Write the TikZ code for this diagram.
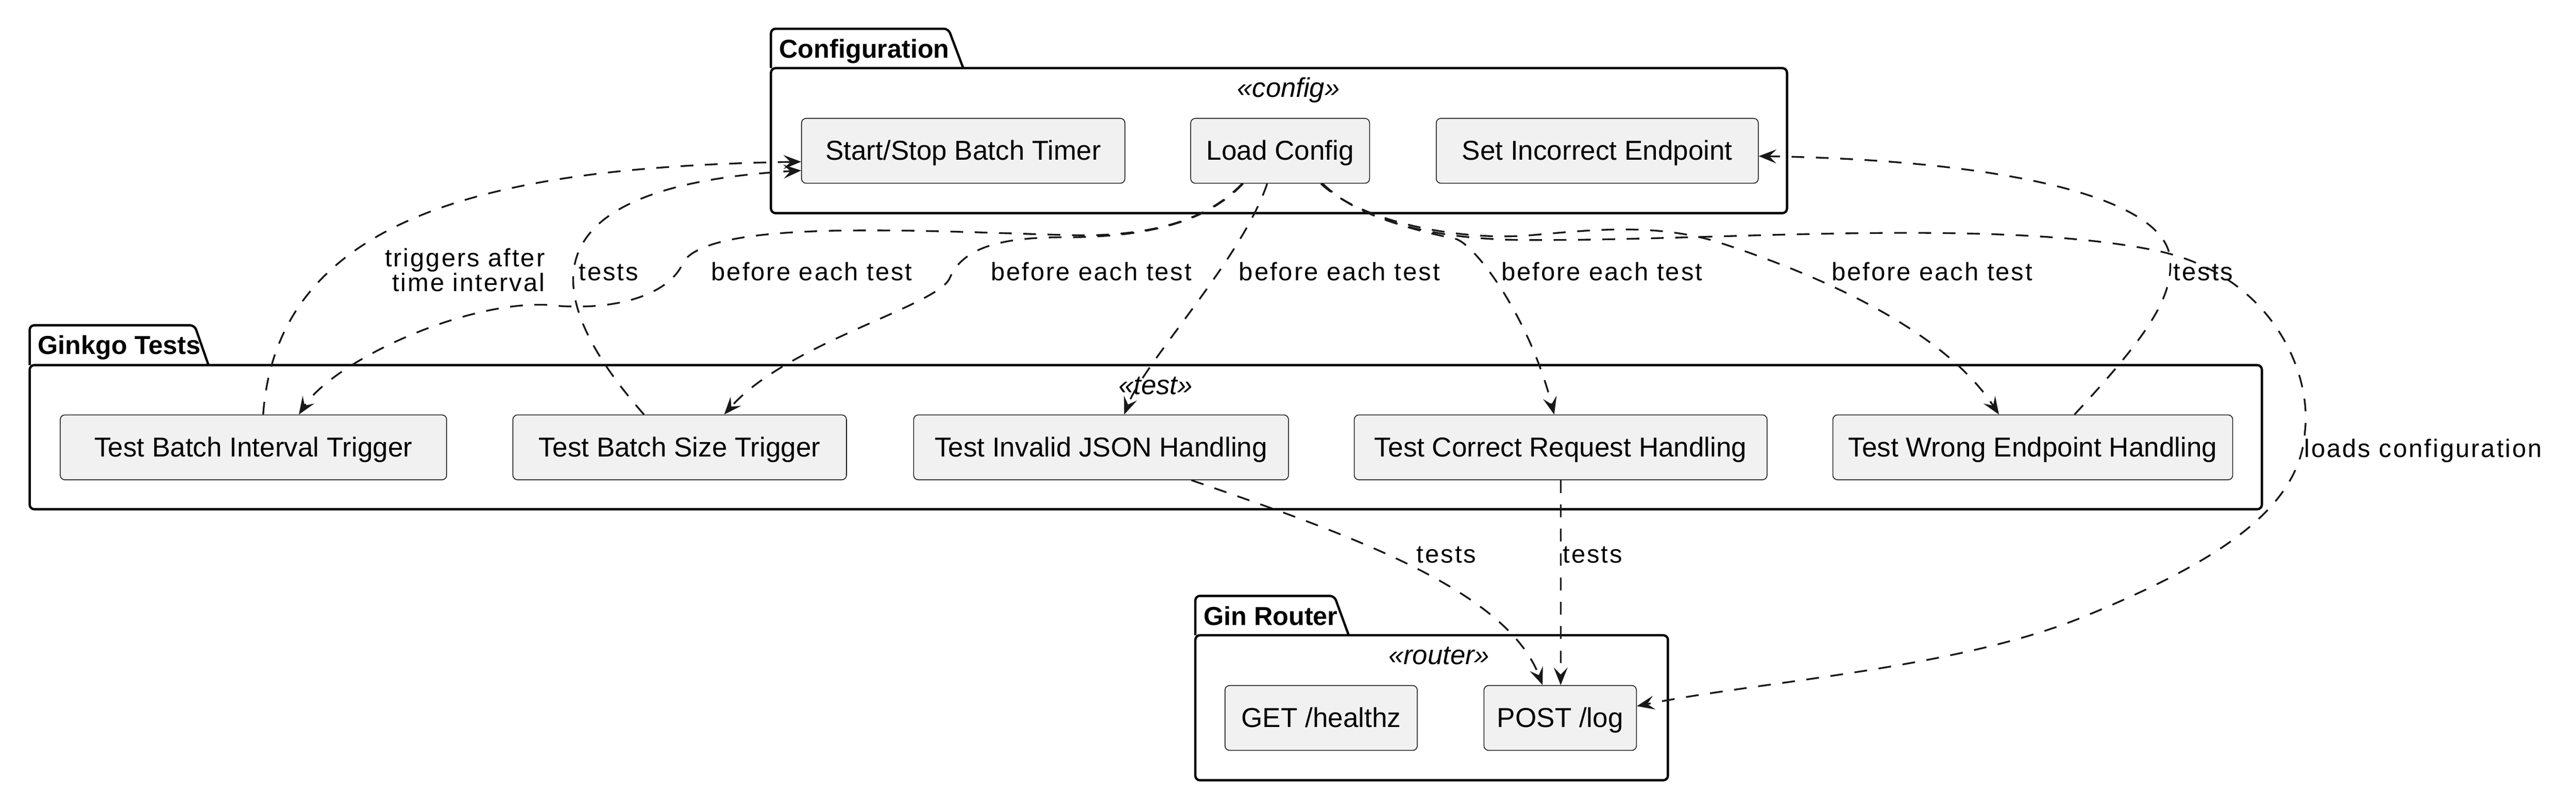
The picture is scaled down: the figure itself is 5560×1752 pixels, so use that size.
\documentclass[tikz,border=0pt]{standalone}
\usepackage{fontspec}
\setmainfont{Liberation Sans}
\newfontfamily\linkfont[LetterSpace=6]{Liberation Sans}
\usetikzlibrary{arrows.meta,calc}

\definecolor{ink}{HTML}{181818}
\definecolor{boxfill}{HTML}{F1F1F1}

\tikzset{
    comp/.style={draw=ink, line width=0.35pt, fill=boxfill, rounded corners=2pt,
        minimum height=28pt, inner xsep=4pt, text depth=0.5pt,
        font=\fontsize{11.8}{14}\selectfont},
    pkg/.style={draw=black, line width=1pt, rounded corners=2pt},
    pkgname/.style={anchor=base west, font=\fontsize{11.2}{13}\selectfont\bfseries},
    stereo/.style={anchor=base, font=\fontsize{11.7}{14}\selectfont\itshape},
    dep/.style={draw=ink, line width=0.75pt, dash pattern=on 5.5pt off 5pt,
        -{Stealth[length=7.6pt, width=6pt, inset=3pt]}},
    lbl/.style={anchor=base, font=\linkfont\fontsize{10.9}{10.8}\selectfont}
}

\begin{document}
\begin{tikzpicture}[x=0.2pt,y=-0.2pt]
    \tikzstyle{every node}+=[inner sep=0pt]
    \useasboundingbox (0,0) rectangle (5560,1752);
    % packages
    \draw [pkg] (1664,147) -- (1664,62) -- (2047,62) -- (2079,147);
    \draw [pkg] (1664,147) rectangle (3857,460);
    \node [pkgname] (cfgname) at (1681,125) {Configuration};
    \node [stereo] (cfgtag) at (2781,210) {«config»};
    \draw [pkg] (64,788) -- (64,702) -- (420,702) -- (450,788);
    \draw [pkg] (64,788) rectangle (4882,1099);
    \node [pkgname] (testname) at (81,765) {Ginkgo Tests};
    \node [stereo] (testtag) at (2494,851) {«test»};
    \draw [pkg] (2580,1371) -- (2580,1286) -- (2880,1286) -- (2911,1371);
    \draw [pkg] (2580,1371) rectangle (3600,1684);
    \node [pkgname] (routername) at (2597,1349) {Gin Router};
    \node [stereo] (routertag) at (3106,1434) {«router»};
    % components
    \node [comp, minimum width=139.6pt] (timer) at (2079,325.5) {Start/Stop Batch Timer};
    \node [comp, minimum width=77.2pt] (load) at (2763,325.5) {Load Config};
    \node [comp, minimum width=139pt] (endpoint) at (3447.5,325.5) {Set Incorrect Endpoint};
    \node [comp, minimum width=166.8pt] (interval) at (547,965.5) {Test Batch Interval Trigger};
    \node [comp, minimum width=144pt] (size) at (1467,965.5) {Test Batch Size Trigger};
    \node [comp, minimum width=161.8pt] (json) at (2376.5,965.5) {Test Invalid JSON Handling};
    \node [comp, minimum width=178.2pt] (correct) at (3368.5,965.5) {Test Correct Request Handling};
    \node [comp, minimum width=172.6pt] (wrong) at (4387.5,965.5) {Test Wrong Endpoint Handling};
    \node [comp, minimum width=83pt] (healthz) at (2851.5,1549.5) {GET /healthz};
    \node [comp, minimum width=65.8pt] (post) at (3367.5,1549.5) {POST /log};
    % dependencies
    \draw [dep] ($(interval.north)+(21,0)$) .. controls (600,450) and (1100,360) .. ($(timer.west)+(0,23.5)$);
    \node [lbl, anchor=base east, align=right] (trigLbl) at (1177,629) {triggers after\\time interval};
    \draw [dep] ($(size.north)+(-77,0)$) .. controls (1130,600) and (1180,400) .. ($(timer.west)+(0,42.5)$);
    \node [lbl] (sizeLbl) at (1313.5,605) {tests};
    \draw [dep] ($(load.south)+(-82,0)$) .. controls (2610,470) and (2500,508) .. (2330,508)
        .. controls (2000,500) and (1540,470) .. (1475,565)
        .. controls (1450,630) and (1340,675) .. (1180,658)
        .. controls (1000,650) and (720,780) .. ($(interval.north)+(98,0)$);
    \node [lbl] (beforeA) at (1752,605) {before each test};
    \draw [dep] ($(load.south)+(-80,0)$) .. controls (2612,470) and (2500,512) .. (2300,512)
        .. controls (2170,512) and (2080,530) .. (2050,600)
        .. controls (2025,660) and (1700,740) .. ($(size.north)+(96,0)$);
    \node [lbl] (beforeB) at (2355.5,605) {before each test};
    \draw [dep] ($(load.south)+(-28,0)$) .. controls (2680,560) and (2470,780) .. ($(json.north)+(50,0)$);
    \node [lbl] (beforeC) at (2891,605) {before each test};
    \draw [dep] ($(load.south)+(90,0)$) .. controls (2920,460) and (3040,495) .. (3140,515)
        .. controls (3180,523) and (3300,680) .. ($(correct.north)+(-14,0)$);
    \node [lbl] (beforeD) at (3457.5,605) {before each test};
    \draw [dep] ($(load.south)+(88,0)$) .. controls (2940,480) and (3150,520) .. (3300,508)
        .. controls (3420,498) and (3560,480) .. (3700,520)
        .. controls (3950,600) and (4200,720) .. ($(wrong.north)+(-73,0)$);
    \node [lbl] (beforeE) at (4170,605) {before each test};
    \draw [dep] ($(wrong.north)+(90,0)$) .. controls (4640,720) and (4690,640) .. (4684,560)
        .. controls (4675,420) and (4300,345) .. ($(endpoint.east)+(0,11.5)$);
    \node [lbl] (wrongLbl) at (4755.5,605) {tests};
    \draw [dep] ($(load.south)+(92,0)$) .. controls (2930,470) and (3080,518) .. (3300,518)
        .. controls (3700,520) and (4300,470) .. (4650,540)
        .. controls (4900,590) and (4990,800) .. (4975,930)
        .. controls (4965,1100) and (4780,1215) .. (4500,1330)
        .. controls (4220,1445) and (3800,1470) .. ($(post.east)+(0,-25.5)$);
    \node [lbl] (loadsLbl) at (5230,987) {loads configuration};
    \draw [dep] ($(json.south)+(195,0)$) .. controls (2900,1150) and (3250,1270) .. ($(post.north)+(-38,0)$);
    \node [lbl] (jsonLbl) at (3122,1215) {tests};
    \draw [dep] (correct.south) -- (correct.south |- post.north);
    \node [lbl] (correctLbl) at (3437.5,1215) {tests};
\end{tikzpicture}
\end{document}
